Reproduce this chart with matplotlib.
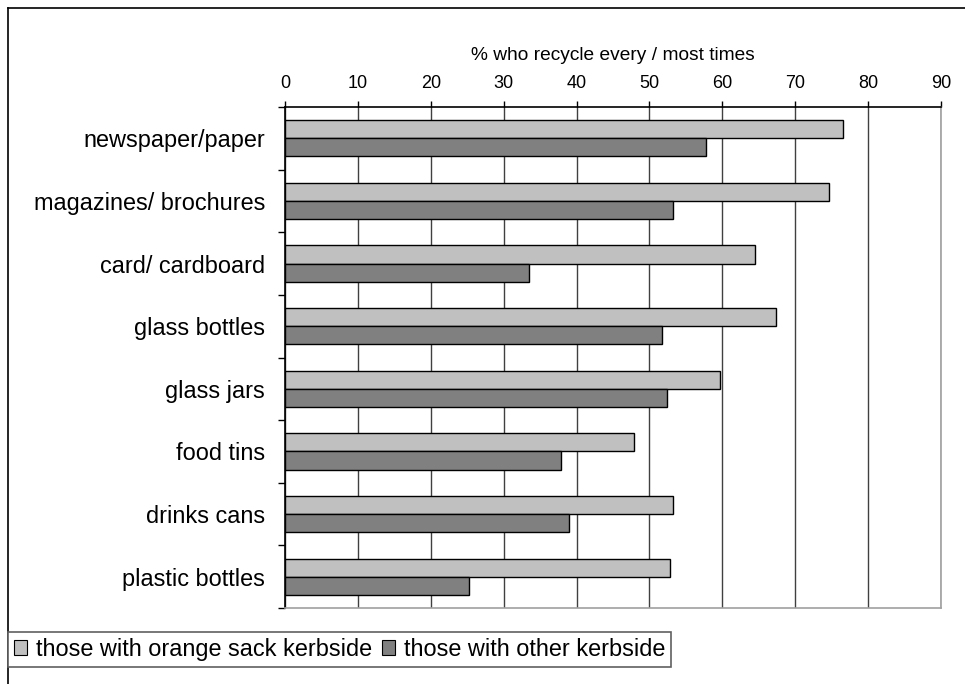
import matplotlib
matplotlib.use("Agg")
import matplotlib.pyplot as plt
import numpy as np
from matplotlib.patches import Patch
from matplotlib.lines import Line2D

categories = ["newspaper/paper", "magazines/ brochures", "card/ cardboard",
              "glass bottles", "glass jars", "food tins", "drinks cans",
              "plastic bottles"]
orange_sack = [76.5, 74.7, 64.5, 67.3, 59.7, 47.9, 53.2, 52.8]
other_kerbside = [57.7, 53.2, 33.5, 51.7, 52.4, 37.8, 39.0, 25.3]
series_labels = ["those with orange sack kerbside", "those with other kerbside"]
x_ticks = [0, 10, 20, 30, 40, 50, 60, 70, 80, 90]
x_label = "% who recycle every / most times"

plt.rcParams["font.family"] = ["Liberation Sans", "DejaVu Sans"]

W, H = 965, 684
fig = plt.figure(figsize=(W / 100, H / 100), dpi=100)
fig.patch.set_facecolor("white")

L, R, T, B = 285, 941, 107, 608
ax = fig.add_axes([L / W, 1 - B / H, (R - L) / W, (B - T) / H])

y = np.arange(len(categories))
bh = 0.29
ax.barh(y - bh / 2, orange_sack, height=bh, color="#c0c0c0",
        edgecolor="black", linewidth=1.0, zorder=3, label=series_labels[0])
ax.barh(y + bh / 2, other_kerbside, height=bh, color="#808080",
        edgecolor="black", linewidth=1.0, zorder=3, label=series_labels[1])

ax.set_xlim(x_ticks[0], x_ticks[-1])
ax.set_ylim(len(categories) - 0.5, -0.5)

ax.xaxis.tick_top()
ax.set_xticks(x_ticks)
ax.set_xticklabels([str(t) for t in x_ticks], fontsize=13)
ax.tick_params(axis="x", direction="out", length=4.3, width=1, color="black",
               pad=6.5)
ax.xaxis.set_label_position("top")
ax.set_xlabel(x_label, fontsize=13.75, labelpad=11)

ax.set_yticks(y)
ax.set_yticklabels(categories, fontsize=16.9)
ax.tick_params(axis="y", which="major", length=0, pad=14.4)
ax.set_yticks(np.arange(-0.5, len(categories) + 0.5, 1), minor=True)
ax.tick_params(axis="y", which="minor", direction="out", length=5.2,
               width=1, color="black")

ax.grid(axis="x", color="#404040", linewidth=1.0, zorder=1)
ax.set_axisbelow(True)

ax.spines["top"].set_color("black")
ax.spines["left"].set_color("black")
ax.spines["right"].set_color("#a0a0a0")
ax.spines["bottom"].set_color("#a0a0a0")
for s in ax.spines.values():
    s.set_linewidth(1.2)

# outer chart border (left and top visible)
fig.add_artist(Line2D([8 / W, 8 / W], [0, 1 - 8 / H], color="black",
                      linewidth=1.2, transform=fig.transFigure))
fig.add_artist(Line2D([8 / W, 1], [1 - 8 / H, 1 - 8 / H], color="black",
                      linewidth=1.2, transform=fig.transFigure))

handles = [Patch(facecolor="#c0c0c0", edgecolor="black", linewidth=0.8),
           Patch(facecolor="#808080", edgecolor="black", linewidth=0.8)]
leg = fig.legend(handles, series_labels, loc="upper left",
                 bbox_to_anchor=(8 / W, 1 - 632 / H), ncol=2,
                 fontsize=16.9, frameon=True, fancybox=False,
                 edgecolor="#606060", framealpha=1, borderaxespad=0,
                 borderpad=0.25, handlelength=0.55, handleheight=0.55,
                 handletextpad=0.4, columnspacing=0.4)
leg.get_frame().set_linewidth(1.2)

fig.savefig("out.png", dpi=100)
